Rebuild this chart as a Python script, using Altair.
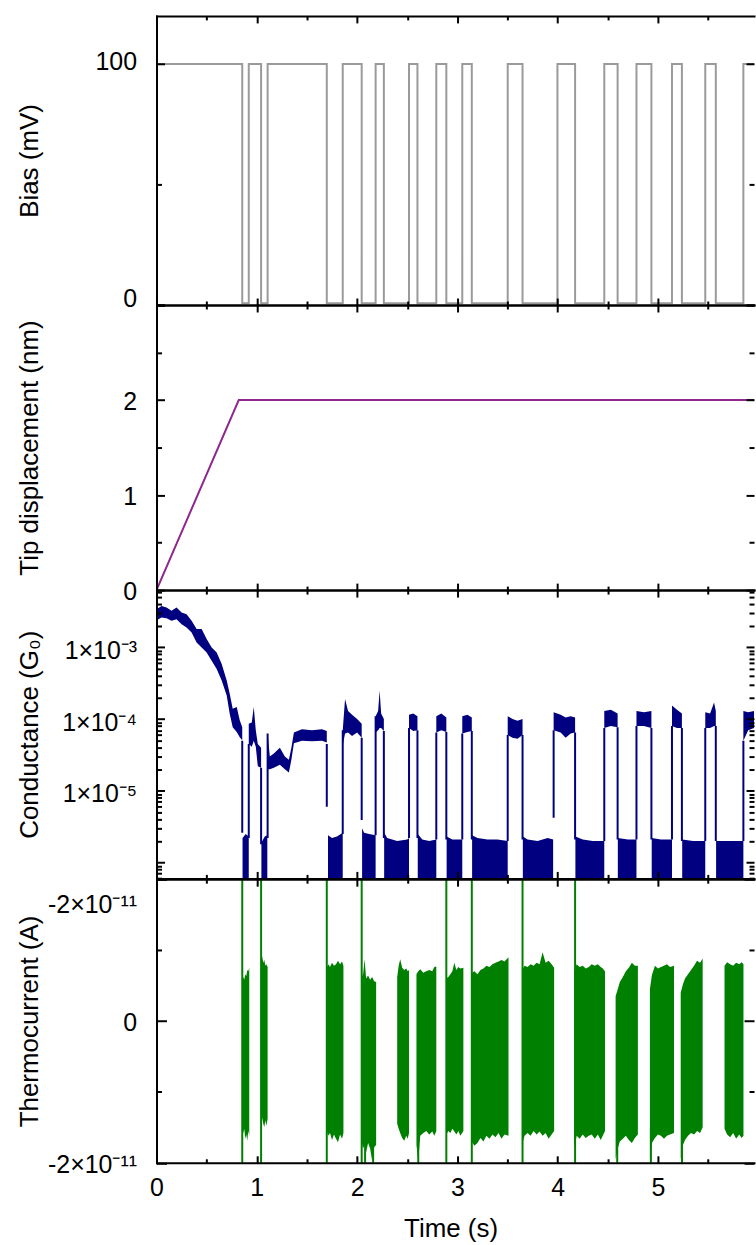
import altair as alt
import pandas as pd

FONT = "Liberation Sans"

# ---------------- x axis ----------------
X_DOMAIN = [0, 5.958]
X_MAJOR = [0, 1, 2, 3, 4, 5]
X_MINOR = [0.5, 1.5, 2.5, 3.5, 4.5, 5.5]
X_TICK_LABELS = ["0", "1", "2", "3", "4", "5"]

# ---------------- bias (mV) ----------------
BIAS_T = [0, 0.855, 0.92, 1.043, 1.108, 1.698, 1.857, 2.046, 2.185, 2.267, 2.518,
          2.602, 2.790, 2.890, 3.049, 3.144, 3.502, 3.650, 3.998, 4.174, 4.465,
          4.598, 4.786, 4.935, 5.140, 5.239, 5.472, 5.577, 5.852, 5.958]
BIAS_MV = [100, 0.7, 100, 0.7, 100, 0.7, 100, 0.7, 100, 0.7, 100,
           0.7, 100, 0.7, 100, 0.7, 100, 0.7, 100, 0.7, 100,
           0.7, 100, 0.7, 100, 0.7, 100, 0.7, 100, 100]
BIAS_TICKS = [0, 100]
BIAS_TICK_LABELS = ["", "100"]
BIAS_ZERO_TICK = [0]
BIAS_ZERO_LABEL = "0"
BIAS_MINOR = [50]

# ---------------- tip displacement (nm) ----------------
TIP_T = [0, 0.82, 5.958]
TIP_NM = [0, 2, 2]
TIP_TICKS = [0, 1, 2, 3]
TIP_TICK_LABELS = ["0", "1", "2", ""]
TIP_MINOR = [0.5, 1.5, 2.5]

# ---------------- conductance (G0) ----------------
G_DOMAIN = [6.0e-7, 6.3e-3]
G_TICKS = [1e-6, 1e-5, 1e-4, 1e-3]
G_TICK_LABELS = ["", "1×10⁻⁵", "1×10⁻⁴", "1×10⁻³"]
G_MINOR = [k * 10.0 ** d for d in (-7, -6, -5, -4, -3) for k in range(2, 10)
           if G_DOMAIN[0] <= k * 10.0 ** d <= G_DOMAIN[1]]

G_ON_T = [
    [0.00, 0.05, 0.10, 0.15, 0.20, 0.25, 0.30, 0.35, 0.40, 0.45, 0.50, 0.55, 0.60, 0.65, 0.70, 0.73, 0.76, 0.80, 0.83, 0.855],
    [0.92, 0.95, 0.97, 0.99, 1.01, 1.043],
    [1.108, 1.13, 1.17, 1.23, 1.28, 1.32, 1.345, 1.37, 1.45, 1.55, 1.65, 1.698],
    [1.857, 1.88, 1.91, 1.95, 2.00, 2.046],
    [2.185, 2.21, 2.225, 2.24, 2.267],
    [2.518, 2.56, 2.602],
    [2.790, 2.84, 2.890],
    [3.049, 3.10, 3.144],
    [3.502, 3.55, 3.60, 3.650],
    [3.96, 4.03, 4.08, 4.13, 4.174],
    [4.465, 4.53, 4.598],
    [4.786, 4.86, 4.935],
    [5.140, 5.19, 5.239],
    [5.472, 5.52, 5.56, 5.577],
    [5.852, 5.90, 5.958],
]
G_ON_HI = [
    [3.41e-3, 3.79e-3, 3.6e-3, 3.24e-3, 3.6e-3, 3.06e-3, 2.91e-3, 2.35e-3, 1.8e-3, 1.8e-3, 1.31e-3, 1.0e-3, 8.5e-4, 5.87e-4, 3.45e-4, 2.25e-4, 1.39e-4, 1.47e-4, 9.6e-5, 7.7e-5],
    [8.6e-5, 9.0e-5, 1.47e-4, 7.0e-5, 4.5e-5, 4.0e-5],
    [6.3e-5, 3.0e-5, 3.3e-5, 4.0e-5, 3.0e-5, 2.7e-5, 4.0e-5, 6.5e-5, 7.2e-5, 7.0e-5, 7.2e-5, 6.8e-5],
    [7.0e-5, 1.9e-4, 1.3e-4, 1.15e-4, 1.0e-4, 8.6e-5],
    [1.1e-4, 1.3e-4, 2.5e-4, 1.2e-4, 1.0e-4],
    [1.15e-4, 1.2e-4, 1.1e-4],
    [1.1e-4, 1.2e-4, 1.05e-4],
    [1.1e-4, 1.15e-4, 1.05e-4],
    [1.1e-4, 1.0e-4, 9.5e-5, 1.0e-4],
    [1.25e-4, 1.15e-4, 1.05e-4, 1.1e-4, 1.05e-4],
    [1.3e-4, 1.35e-4, 1.2e-4],
    [1.3e-4, 1.25e-4, 1.3e-4],
    [1.55e-4, 1.35e-4, 1.2e-4],
    [1.25e-4, 1.2e-4, 1.7e-4, 1.3e-4],
    [1.3e-4, 1.25e-4, 1.3e-4],
]
G_ON_LO = [
    [2.4e-3, 2.61e-3, 2.56e-3, 2.35e-3, 2.48e-3, 2.11e-3, 1.9e-3, 1.62e-3, 1.17e-3, 1.0e-3, 8.5e-4, 6.53e-4, 5.0e-4, 3.45e-4, 2.13e-4, 1.19e-4, 7.7e-5, 6.6e-5, 5.6e-5, 5.06e-5],
    [4.5e-5, 4.1e-5, 5.0e-5, 4.1e-5, 2.2e-5, 2.1e-5],
    [2.0e-5, 2.0e-5, 2.1e-5, 2.3e-5, 2.0e-5, 1.8e-5, 2.7e-5, 4.6e-5, 5.0e-5, 4.9e-5, 5.0e-5, 4.7e-5],
    [4.3e-5, 6.3e-5, 6.5e-5, 5.8e-5, 6.5e-5, 5.5e-5],
    [6.5e-5, 7.0e-5, 7.5e-5, 7.5e-5, 6.8e-5],
    [7.5e-5, 6.8e-5, 7.0e-5],
    [6.5e-5, 7.0e-5, 6.6e-5],
    [6.3e-5, 6.6e-5, 6.8e-5],
    [6.0e-5, 5.5e-5, 5.3e-5, 6.0e-5],
    [7.0e-5, 6.5e-5, 5.5e-5, 6.3e-5, 6.5e-5],
    [7.5e-5, 8.0e-5, 7.7e-5],
    [8.0e-5, 8.0e-5, 7.5e-5],
    [8.0e-5, 7.5e-5, 7.5e-5],
    [7.5e-5, 7.5e-5, 8.0e-5, 8.0e-5],
    [5.0e-5, 7.0e-5, 7.5e-5],
]
G_OFF_T = [
    [0.858, 0.89, 0.92],
    [1.046, 1.08, 1.105],
    [1.71, 1.75, 1.80, 1.857],
    [2.05, 2.07, 2.12, 2.185],
    [2.27, 2.30, 2.40, 2.50, 2.518],
    [2.605, 2.65, 2.72, 2.79],
    [2.893, 2.95, 3.049],
    [3.147, 3.20, 3.30, 3.40, 3.502],
    [3.653, 3.70, 3.80, 3.90, 3.955],
    [4.177, 4.25, 4.35, 4.465],
    [4.60, 4.70, 4.786],
    [4.938, 5.03, 5.14],
    [5.242, 5.35, 5.472],
    [5.58, 5.70, 5.852],
]
G_OFF_HI = [
    [2.2e-6, 2.5e-6, 2.3e-6],
    [1.9e-6, 2.3e-6, 2.4e-6],
    [2.4e-6, 2.2e-6, 2.3e-6, 2.6e-6],
    [3.0e-6, 2.6e-6, 2.5e-6, 2.4e-6],
    [2.6e-6, 2.2e-6, 2.0e-6, 2.1e-6, 2.2e-6],
    [2.5e-6, 2.1e-6, 2.0e-6, 2.1e-6],
    [2.3e-6, 2.1e-6, 2.1e-6],
    [2.4e-6, 2.2e-6, 2.1e-6, 2.1e-6, 2.0e-6],
    [2.3e-6, 2.1e-6, 2.0e-6, 2.2e-6, 2.1e-6],
    [2.3e-6, 2.1e-6, 2.0e-6, 2.0e-6],
    [2.2e-6, 2.1e-6, 2.1e-6],
    [2.2e-6, 2.1e-6, 2.1e-6],
    [2.1e-6, 2.0e-6, 2.0e-6],
    [2.0e-6, 2.0e-6, 2.0e-6],
]
G_EDGE_T = [0.855, 0.92, 1.043, 1.108, 1.698, 1.857, 2.046, 2.185, 2.267, 2.518,
            2.602, 2.790, 2.890, 3.049, 3.144, 3.502, 3.650, 3.96, 4.174, 4.465,
            4.598, 4.786, 4.935, 5.140, 5.239, 5.472, 5.577, 5.852]
G_EDGE_LO = [2.6e-6, 2.2e-6, 1.8e-6, 2.2e-6, 6.0e-6, 2.5e-6, 3.9e-6, 2.4e-6, 2.2e-6, 2.2e-6,
             2.2e-6, 2.1e-6, 2.1e-6, 2.1e-6, 2.1e-6, 2.0e-6, 2.1e-6, 4.2e-6, 2.1e-6, 2.0e-6,
             2.1e-6, 2.1e-6, 2.1e-6, 2.1e-6, 2.0e-6, 2.0e-6, 2.0e-6, 2.0e-6]
G_EDGE_HI = [5.0e-5, 4.5e-5, 2.1e-5, 6.3e-5, 4.5e-5, 7.0e-5, 5.5e-5, 1.1e-4, 6.8e-5, 7.5e-5,
             7.0e-5, 6.5e-5, 6.6e-5, 6.3e-5, 6.8e-5, 6.0e-5, 6.0e-5, 7.0e-5, 6.5e-5, 7.5e-5,
             7.7e-5, 8.0e-5, 7.5e-5, 8.0e-5, 7.5e-5, 7.5e-5, 8.0e-5, 5.0e-5]

# ---------------- thermocurrent (A) ----------------
TH_DOMAIN = [-2e-11, 2e-11]
TH_TICKS = [-2e-11, 0, 2e-11]
TH_TICK_LABELS = ["-2×10⁻¹¹", "0", ""]
TH_TOP_TICK = [2e-11]
TH_TOP_LABEL = "-2×10⁻¹¹"
TH_MINOR = [-1e-11, 1e-11]

TH_T = [
    [0.855, 0.865, 0.875, 0.885, 0.895, 0.905, 0.915, 0.925],
    [1.043, 1.055, 1.065, 1.075, 1.085, 1.095, 1.108],
    [1.698, 1.715, 1.73, 1.75, 1.77, 1.79, 1.81, 1.83, 1.85, 1.864],
    [2.046, 2.06, 2.075, 2.09, 2.11, 2.13, 2.15, 2.17, 2.19],
    [2.40, 2.415, 2.43, 2.45, 2.47, 2.49, 2.505, 2.518],
    [2.592, 2.61, 2.63, 2.66, 2.69, 2.72, 2.75, 2.77, 2.79],
    [2.89, 2.91, 2.93, 2.95, 2.97, 2.99, 3.01, 3.03, 3.06],
    [3.144, 3.17, 3.20, 3.23, 3.26, 3.29, 3.32, 3.35, 3.38, 3.41, 3.44, 3.47, 3.51],
    [3.644, 3.67, 3.70, 3.73, 3.76, 3.79, 3.82, 3.85, 3.88, 3.91, 3.94, 3.965],
    [4.164, 4.19, 4.22, 4.25, 4.28, 4.31, 4.34, 4.37, 4.40, 4.43, 4.45, 4.472],
    [4.578, 4.60, 4.62, 4.65, 4.68, 4.71, 4.74, 4.77, 4.80],
    [4.92, 4.94, 4.97, 5.00, 5.03, 5.06, 5.09, 5.12, 5.16],
    [5.227, 5.25, 5.27, 5.30, 5.33, 5.36, 5.39, 5.42, 5.446],
    [5.664, 5.69, 5.72, 5.75, 5.78, 5.81, 5.835, 5.853],
]
TH_HI = [
    [0.55e-11, 0.62e-11, 0.58e-11, 0.66e-11, 0.63e-11, 0.72e-11, 0.70e-11, 0.75e-11],
    [0.95e-11, 0.90e-11, 0.82e-11, 0.86e-11, 0.78e-11, 0.80e-11, 0.76e-11],
    [0.75e-11, 0.80e-11, 0.76e-11, 0.82e-11, 0.78e-11, 0.80e-11, 0.85e-11, 0.80e-11, 0.84e-11, 0.78e-11],
    [0.62e-11, 0.66e-11, 0.87e-11, 0.60e-11, 0.64e-11, 0.58e-11, 0.62e-11, 0.56e-11, 0.55e-11],
    [0.62e-11, 0.78e-11, 0.87e-11, 0.75e-11, 0.72e-11, 0.74e-11, 0.70e-11, 0.72e-11],
    [0.66e-11, 0.70e-11, 0.73e-11, 0.68e-11, 0.70e-11, 0.72e-11, 0.70e-11, 0.76e-11, 0.77e-11],
    [0.60e-11, 0.62e-11, 0.66e-11, 0.70e-11, 0.82e-11, 0.72e-11, 0.76e-11, 0.74e-11, 0.75e-11],
    [0.68e-11, 0.70e-11, 0.66e-11, 0.72e-11, 0.74e-11, 0.78e-11, 0.76e-11, 0.80e-11, 0.82e-11, 0.84e-11, 0.86e-11, 0.84e-11, 0.90e-11],
    [0.72e-11, 0.78e-11, 0.76e-11, 0.80e-11, 0.78e-11, 0.82e-11, 0.80e-11, 0.97e-11, 0.82e-11, 0.85e-11, 0.80e-11, 0.75e-11],
    [0.70e-11, 0.80e-11, 0.76e-11, 0.78e-11, 0.74e-11, 0.76e-11, 0.80e-11, 0.78e-11, 0.80e-11, 0.76e-11, 0.74e-11, 0.70e-11],
    [0.35e-11, 0.45e-11, 0.55e-11, 0.62e-11, 0.70e-11, 0.75e-11, 0.82e-11, 0.78e-11, 0.78e-11],
    [0.45e-11, 0.65e-11, 0.78e-11, 0.74e-11, 0.76e-11, 0.78e-11, 0.80e-11, 0.76e-11, 0.78e-11],
    [0.40e-11, 0.52e-11, 0.60e-11, 0.66e-11, 0.72e-11, 0.78e-11, 0.85e-11, 0.82e-11, 0.88e-11],
    [0.78e-11, 0.83e-11, 0.80e-11, 0.78e-11, 0.82e-11, 0.80e-11, 0.83e-11, 0.80e-11],
]
TH_LO = [
    [-1.50e-11, -1.58e-11, -1.52e-11, -1.66e-11, -1.60e-11, -1.69e-11, -1.55e-11, -1.62e-11],
    [-1.30e-11, -1.38e-11, -1.45e-11, -1.50e-11, -1.40e-11, -1.48e-11, -1.38e-11],
    [-1.55e-11, -1.62e-11, -1.58e-11, -1.68e-11, -1.60e-11, -1.66e-11, -1.71e-11, -1.60e-11, -1.66e-11, -1.58e-11],
    [-1.70e-11, -1.80e-11, -1.75e-11, -1.85e-11, -1.72e-11, -1.80e-11, -1.97e-11, -1.78e-11, -1.75e-11],
    [-1.45e-11, -1.52e-11, -1.58e-11, -1.65e-11, -1.69e-11, -1.62e-11, -1.66e-11, -1.58e-11],
    [-1.75e-11, -1.97e-11, -1.62e-11, -1.58e-11, -1.55e-11, -1.60e-11, -1.56e-11, -1.62e-11, -1.55e-11],
    [-1.60e-11, -1.55e-11, -1.58e-11, -1.52e-11, -1.56e-11, -1.60e-11, -1.55e-11, -1.62e-11, -1.55e-11],
    [-1.70e-11, -1.76e-11, -1.72e-11, -1.65e-11, -1.70e-11, -1.62e-11, -1.66e-11, -1.60e-11, -1.64e-11, -1.58e-11, -1.66e-11, -1.60e-11, -1.62e-11],
    [-1.75e-11, -1.62e-11, -1.58e-11, -1.62e-11, -1.55e-11, -1.60e-11, -1.56e-11, -1.62e-11, -1.58e-11, -1.66e-11, -1.60e-11, -1.55e-11],
    [-1.78e-11, -1.62e-11, -1.66e-11, -1.60e-11, -1.65e-11, -1.62e-11, -1.60e-11, -1.66e-11, -1.60e-11, -1.68e-11, -1.62e-11, -1.55e-11],
    [-1.95e-11, -1.80e-11, -1.70e-11, -1.66e-11, -1.62e-11, -1.68e-11, -1.72e-11, -1.65e-11, -1.60e-11],
    [-1.95e-11, -1.72e-11, -1.65e-11, -1.60e-11, -1.62e-11, -1.66e-11, -1.62e-11, -1.60e-11, -1.58e-11],
    [-1.95e-11, -1.75e-11, -1.68e-11, -1.62e-11, -1.58e-11, -1.60e-11, -1.55e-11, -1.58e-11, -1.50e-11],
    [-1.52e-11, -1.60e-11, -1.64e-11, -1.58e-11, -1.66e-11, -1.60e-11, -1.65e-11, -1.62e-11],
]
TH_SPIKE_T = [0.855, 1.043, 1.698, 2.046, 2.89, 3.144, 3.65, 4.174]
TH_SPIKE_LO = -2.6e-11
TH_SPIKE_HI = 2.6e-11
TH_DIP_T = [2.08, 2.16, 2.61, 4.594, 4.93, 5.24]
TH_DIP_HI = -1.5e-11

# ---------------- colours / layout ----------------
C_BIAS = "#9a9a9a"
C_TIP = "#8e278e"
C_G = "#000080"
C_TH = "#008000"

PLOT_W = 599.4
H_BIAS, H_TIP, H_G, H_TH = 290, 286, 289.2, 284.5
PLOT_LEFT = 155.6
TITLE_CENTER = 28


# ---------------- helpers ----------------
def bands(ts, his, los):
    rows = []
    for i, (t, h, l) in enumerate(zip(ts, his, los)):
        for a, b, c in zip(t, h, l):
            rows.append({"t": a, "hi": b, "lo": c, "seg": i})
    return pd.DataFrame(rows)


def expr_lin(vals, texts, tol):
    e = "''"
    for v, s in zip(vals, texts):
        e = f"abs(datum.value - ({v})) < {tol} ? '{s}' : ({e})"
    return e


def expr_log(vals, texts):
    e = "''"
    for v, s in zip(vals, texts):
        e = f"abs(log(datum.value) - log({v})) < 0.01 ? '{s}' : ({e})"
    return e


def ax(orient, values, size, labels=False, expr=None, title=None, title_x=None,
       title_y=None, label_offset=0, label_padding=20):
    kw = dict(orient=orient, values=values, tickSize=size, offset=-size, domain=False,
              grid=False, tickWidth=2, tickColor="black", labels=labels, zindex=1)
    if labels:
        kw.update(labelFont=FONT, labelFontSize=25, labelColor="black",
                  labelPadding=label_padding, labelOverlap=False, labelFlush=False)
        if expr:
            kw["labelExpr"] = expr
        if label_offset:
            kw["labelOffset"] = label_offset
    if title:
        kw.update(title=title, titleFont=FONT, titleFontSize=26, titleFontWeight="normal",
                  titleColor="black", titleBaseline="middle")
        if title_x is not None:
            kw["titleX"] = title_x
        if title_y is not None:
            kw["titleY"] = title_y
        if orient == "left":
            kw["titleAngle"] = 270
    else:
        kw["title"] = None
    return alt.Axis(**kw)


def frame(orient):
    return alt.Axis(orient=orient, domain=True, domainColor="black", domainWidth=2,
                    domainCap="square", ticks=False, labels=False, grid=False,
                    title=None, offset=0, zindex=1)


XS = alt.Scale(domain=X_DOMAIN, nice=False, zero=False)


def x_axes(bottom_labels=False):
    if bottom_labels:
        bm = ax("bottom", X_MAJOR, 7, labels=True,
                expr=expr_lin(X_MAJOR, X_TICK_LABELS, 0.01),
                label_padding=13, title="Time (s)", title_x=295, title_y=73)
    else:
        bm = ax("bottom", X_MAJOR, 7)
    return [bm, ax("bottom", X_MINOR, 4), ax("top", X_MAJOR, 7), ax("top", X_MINOR, 4),
            frame("bottom"), frame("top")]


def y_axes(major, minor, expr, title, size=8, label_offset=0, extras=()):
    lab = ax("left", major, size, labels=True, expr=expr, title=title,
             title_x=TITLE_CENTER - PLOT_LEFT - size, label_offset=label_offset)
    axes = [lab, ax("left", minor, 5), ax("right", major, size), ax("right", minor, 5),
            frame("left")]
    axes.extend(extras)
    return axes


def panel(layers, yscale, ymid, xa, ya, height):
    n = max(len(xa), len(ya))
    carriers = []
    cdf = pd.DataFrame({"t": [3.0], "v": [ymid]})
    for i in range(n):
        xx = xa[i] if i < len(xa) else None
        yy = ya[i] if i < len(ya) else None
        carriers.append(
            alt.Chart(cdf).mark_point(opacity=0, size=1).encode(
                x=alt.X("t:Q", scale=XS, axis=xx),
                y=alt.Y("v:Q", scale=yscale, axis=yy),
            )
        )
    return (alt.layer(*layers, *carriers)
            .resolve_axis(x="independent", y="independent")
            .properties(width=PLOT_W, height=height))


# ---------------- panel 1: bias ----------------
YS_BIAS = alt.Scale(domain=[0, 120], nice=False, zero=False)
bias_df = pd.DataFrame({"t": BIAS_T, "v": BIAS_MV})
bias_line = alt.Chart(bias_df).mark_line(
    color=C_BIAS, strokeWidth=2, interpolate="step-after", clip=True
).encode(x=alt.X("t:Q", scale=XS, axis=None), y=alt.Y("v:Q", scale=YS_BIAS, axis=None))
bias_zero_axis = ax("left", BIAS_ZERO_TICK, 8, labels=True,
                    expr=expr_lin(BIAS_ZERO_TICK, [BIAS_ZERO_LABEL], 1), label_offset=-7)
p1 = panel([bias_line], YS_BIAS, 60, x_axes(),
           y_axes(BIAS_TICKS, BIAS_MINOR, expr_lin(BIAS_TICKS, BIAS_TICK_LABELS, 1),
                  "Bias (mV)", label_offset=-3, extras=[bias_zero_axis]), H_BIAS)

# ---------------- panel 2: tip displacement ----------------
YS_TIP = alt.Scale(domain=[0, 3], nice=False, zero=False)
tip_df = pd.DataFrame({"t": TIP_T, "v": TIP_NM})
tip_line = alt.Chart(tip_df).mark_line(color=C_TIP, strokeWidth=2, clip=True).encode(
    x=alt.X("t:Q", scale=XS, axis=None), y=alt.Y("v:Q", scale=YS_TIP, axis=None))
p2 = panel([tip_line], YS_TIP, 1.5, x_axes(),
           y_axes(TIP_TICKS, TIP_MINOR, expr_lin(TIP_TICKS, TIP_TICK_LABELS, 0.01),
                  "Tip displacement (nm)", label_offset=1), H_TIP)

# ---------------- panel 3: conductance ----------------
YS_G = alt.Scale(type="log", domain=G_DOMAIN, nice=False)
g_on = bands(G_ON_T, G_ON_HI, G_ON_LO)
g_off = bands(G_OFF_T, G_OFF_HI, [[G_DOMAIN[0]] * len(t) for t in G_OFF_T])
g_edges = pd.DataFrame({"t": G_EDGE_T, "lo": G_EDGE_LO, "hi": G_EDGE_HI})
g_on_area = alt.Chart(g_on).mark_area(color=C_G, clip=True).encode(
    x=alt.X("t:Q", scale=XS, axis=None), y=alt.Y("hi:Q", scale=YS_G, axis=None),
    y2="lo:Q", detail="seg:N")
g_off_area = alt.Chart(g_off).mark_area(color=C_G, clip=True).encode(
    x=alt.X("t:Q", scale=XS, axis=None), y=alt.Y("hi:Q", scale=YS_G, axis=None),
    y2="lo:Q", detail="seg:N")
g_edge_rule = alt.Chart(g_edges).mark_rule(color=C_G, strokeWidth=2, clip=True).encode(
    x=alt.X("t:Q", scale=XS, axis=None), y=alt.Y("lo:Q", scale=YS_G, axis=None), y2="hi:Q")
p3 = panel([g_off_area, g_on_area, g_edge_rule], YS_G, 1e-4, x_axes(),
           y_axes(G_TICKS, G_MINOR, expr_log(G_TICKS, G_TICK_LABELS),
                  "Conductance (G₀)", label_offset=3), H_G)

# ---------------- panel 4: thermocurrent ----------------
YS_TH = alt.Scale(domain=TH_DOMAIN, nice=False, zero=False)
th_df = bands(TH_T, TH_HI, TH_LO)
th_spk = pd.DataFrame({"t": TH_SPIKE_T, "lo": [TH_SPIKE_LO] * len(TH_SPIKE_T),
                       "hi": [TH_SPIKE_HI] * len(TH_SPIKE_T)})
th_dip = pd.DataFrame({"t": TH_DIP_T, "lo": [TH_SPIKE_LO] * len(TH_DIP_T),
                       "hi": [TH_DIP_HI] * len(TH_DIP_T)})
th_area = alt.Chart(th_df).mark_area(color=C_TH, clip=True).encode(
    x=alt.X("t:Q", scale=XS, axis=None), y=alt.Y("hi:Q", scale=YS_TH, axis=None),
    y2="lo:Q", detail="seg:N")
th_spike = alt.Chart(th_spk).mark_rule(color=C_TH, strokeWidth=2, clip=True).encode(
    x=alt.X("t:Q", scale=XS, axis=None), y=alt.Y("lo:Q", scale=YS_TH, axis=None), y2="hi:Q")
th_dips = alt.Chart(th_dip).mark_rule(color=C_TH, strokeWidth=2, clip=True).encode(
    x=alt.X("t:Q", scale=XS, axis=None), y=alt.Y("lo:Q", scale=YS_TH, axis=None), y2="hi:Q")
top_label_axis = ax("left", TH_TOP_TICK, 10, labels=True,
                    expr=expr_lin(TH_TOP_TICK, [TH_TOP_LABEL], 1e-13), label_offset=25)
p4 = panel([th_area, th_spike, th_dips], YS_TH, 0, x_axes(bottom_labels=True),
           y_axes(TH_TICKS, TH_MINOR, expr_lin(TH_TICKS, TH_TICK_LABELS, 1e-13),
                  "Thermocurrent (A)", size=10, label_offset=2, extras=[top_label_axis]),
           H_TH)

chart = (
    alt.vconcat(p1, p2, p3, p4, spacing=0, bounds="flush")
    .configure_view(stroke="transparent")
    .properties(padding={"left": 15, "top": 12, "right": 0, "bottom": 3},
                background="white")
)

chart.save("out.html", embed_options={"renderer": "svg", "actions": False})
